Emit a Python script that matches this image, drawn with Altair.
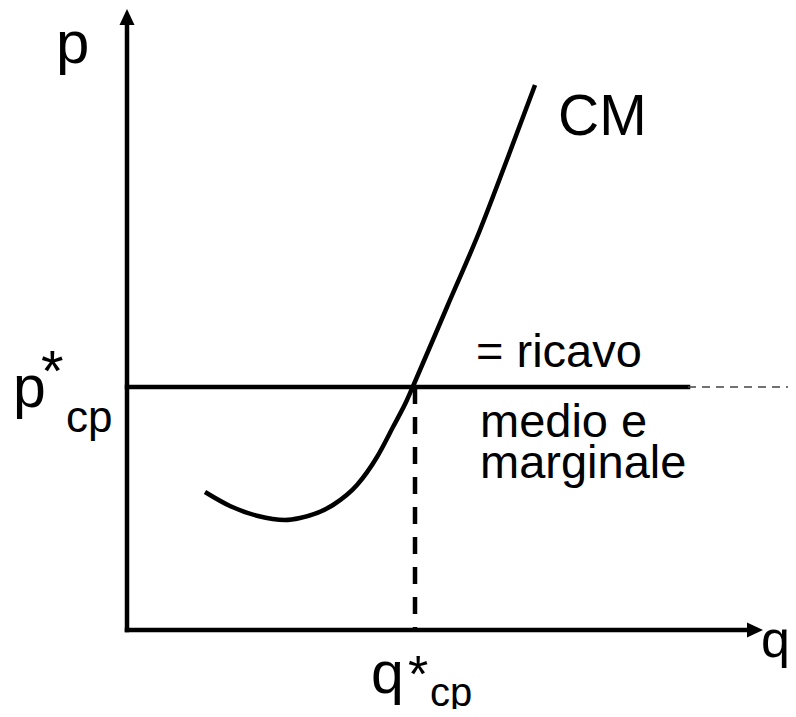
import altair as alt
import pandas as pd

FONT = "Liberation Sans"

# Cost curve CM (q, p)
curve_q = [7.8, 10.3, 13.1, 15.8, 17.3, 20.6, 23.0, 25.0, 26.6, 28.0, 28.7, 32.0, 35.3, 38.1, 40.8]
curve_p = [13.8, 12.4, 11.4, 11.0, 11.2, 12.5, 14.5, 17.3, 20.3, 23.0, 24.6, 32.3, 40.0, 47.3, 54.5]

# equilibrium values
p_star = 24.3
q_star = 28.8

# axis extents
y_axis_top = 60.5
x_axis_end = 62.0
price_line_end = 56.1
view_end = 66.1

# labels
label_text = ["p", "CM", "p", "*", "cp", "q", "*", "cp", "q", "= ricavo", "medio e", "marginale"]
label_q = [-7.1, 43.1, -11.4, -8.6, -6.1, 24.4, 28.1, 30.3, 63.4, 34.9, 35.3, 35.3]
label_p = [56.7, 49.5, 22.3, 23.9, 19.8, -6.3, -6.2, -7.6, -2.7, 26.3, 19.3, 15.2]
label_size = [60, 57, 59, 58, 44, 59, 52, 40, 52, 47, 47, 47]

xs = alt.Scale(domain=[-11.9, view_end], nice=False, zero=False)
ys = alt.Scale(domain=[-7.9, 62.2], nice=False, zero=False)

seg_df = pd.DataFrame({
    "q": [0, 0, 0],
    "q2": [0, x_axis_end, price_line_end],
    "p": [0, 0, p_star],
    "p2": [y_axis_top, 0, p_star],
})

solid = alt.Chart(seg_df).mark_rule(color="black", strokeWidth=4.5, strokeCap="square").encode(
    x=alt.X("q:Q", scale=xs, axis=None),
    x2="q2",
    y=alt.Y("p:Q", scale=ys, axis=None),
    y2="p2",
)

vdash_df = pd.DataFrame({"q": [q_star], "p": [0], "p2": [p_star]})
vdash = alt.Chart(vdash_df).mark_rule(color="black", strokeWidth=4.5, strokeDash=[17, 13]).encode(
    x=alt.X("q:Q", scale=xs, axis=None),
    y=alt.Y("p2:Q", scale=ys, axis=None),
    y2="p",
)

hdash_df = pd.DataFrame({"q": [price_line_end], "q2": [view_end], "p": [p_star]})
hdash = alt.Chart(hdash_df).mark_rule(color="#444444", strokeWidth=1.5, strokeDash=[8, 6]).encode(
    x=alt.X("q:Q", scale=xs, axis=None),
    x2="q2",
    y=alt.Y("p:Q", scale=ys, axis=None),
)

curve_df = pd.DataFrame({"q": curve_q, "p": curve_p})
curve = alt.Chart(curve_df).mark_line(color="black", strokeWidth=4.5, interpolate="monotone").encode(
    x=alt.X("q:Q", scale=xs, axis=None),
    y=alt.Y("p:Q", scale=ys, axis=None),
)

up_df = pd.DataFrame({"q": [0], "p": [61.3]})
up_arrow = alt.Chart(up_df).mark_point(
    shape="M0,-1L0.94,1L-0.94,1Z", size=256, filled=True, color="black", opacity=1, strokeWidth=0
).encode(
    x=alt.X("q:Q", scale=xs, axis=None),
    y=alt.Y("p:Q", scale=ys, axis=None),
)

right_df = pd.DataFrame({"q": [62.8], "p": [0]})
right_arrow = alt.Chart(right_df).mark_point(
    shape="M1,0L-1,-0.94L-1,0.94Z", size=256, filled=True, color="black", opacity=1, strokeWidth=0
).encode(
    x=alt.X("q:Q", scale=xs, axis=None),
    y=alt.Y("p:Q", scale=ys, axis=None),
)

lab_df = pd.DataFrame({"label": label_text, "q": label_q, "p": label_p, "fs": label_size})
labels = alt.Chart(lab_df).mark_text(
    align="left", baseline="alphabetic", font=FONT, color="black"
).encode(
    x=alt.X("q:Q", scale=xs, axis=None),
    y=alt.Y("p:Q", scale=ys, axis=None),
    text="label:N",
    size=alt.Size("fs:Q", scale=None, legend=None),
)

chart = alt.layer(solid, vdash, hdash, curve, up_arrow, right_arrow, labels).properties(
    width=780, height=701, padding=0, autosize=alt.AutoSizeParams(type="none"),
    background="white",
).configure_view(stroke=None)

chart.save("out.html", embed_options={"renderer": "svg", "actions": False})
